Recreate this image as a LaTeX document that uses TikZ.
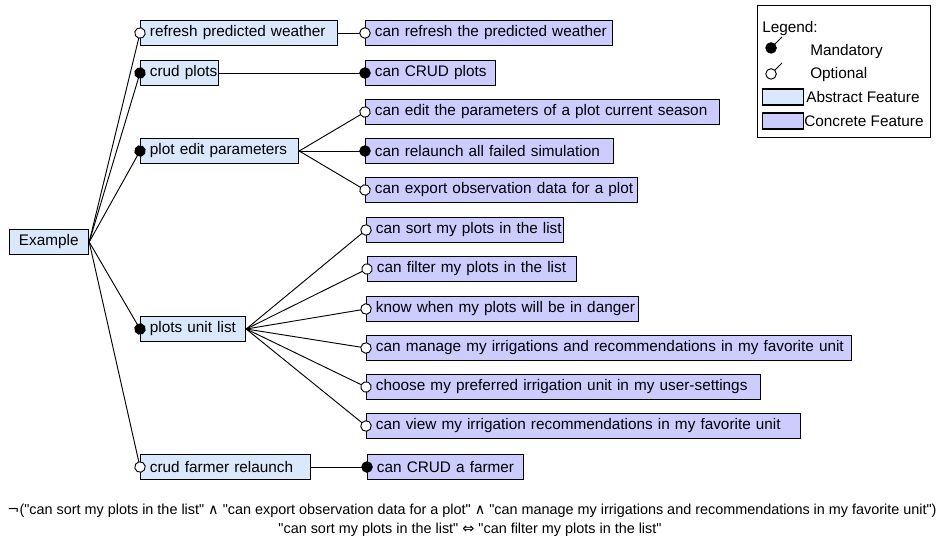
\documentclass[tikz,border=0pt]{standalone}
\usepackage{fontspec}
\setmainfont{Liberation Sans}
\newfontfamily\plainfont{Liberation Sans}
\newfontfamily\symfont{DejaVu Sans}
\usetikzlibrary{arrows.meta}

\definecolor{abstractfill}{RGB}{218,232,252}
\definecolor{concretefill}{RGB}{204,204,255}

\tikzset{
  feat/.style={draw, line width=0.9pt, anchor=west, minimum height=25*0.75pt,
    inner xsep=7pt, inner ysep=0pt, align=left, font=\fontsize{11.5}{13}\selectfont,
    execute at begin node={\hbox\bgroup}, execute at end node={\egroup}},
  abstract/.style={feat, fill=abstractfill},
  concrete/.style={feat, fill=concretefill},
  wd/.code={\pgfmathsetlengthmacro\featw{#1*0.75pt-14pt}\tikzset{text width=\featw}},
  mand/.style={line width=0.7pt, -{Circle[length=8.6pt]}, shorten >=-4.3pt},
  opt/.style={line width=0.7pt, -{Circle[open, fill=white, length=8.6pt]}, shorten >=-4.3pt},
  legtext/.style={anchor=west, inner sep=0pt, font=\fontsize{11.5}{13}\selectfont},
  constraint/.style={inner sep=0pt, font=\plainfont\fontsize{10.8}{12}\selectfont}
}

\begin{document}
\begin{tikzpicture}[x=0.75pt, y=-0.75pt]
\useasboundingbox (0,0) rectangle (938,539);

% root and abstract features
\node[abstract, wd=79]  (ex)   at (9,242)   {Example};
\node[abstract, wd=197] (rpw)  at (140,33)  {refresh predicted weather};
\node[abstract, wd=78]  (cp)   at (140,73)  {crud plots};
\node[abstract, wd=158] (pep)  at (140,151) {plot edit parameters};
\node[abstract, wd=105] (pul)  at (140,329) {plots unit list};
\node[abstract, wd=170] (cfr)  at (140,467) {crud farmer relaunch};

% concrete features
\node[concrete, wd=247] (rpwc) at (365,33)  {can refresh the predicted weather};
\node[concrete, wd=130] (cpc)  at (365,73)  {can CRUD plots};
\node[concrete, wd=354] (edit) at (365,112) {can edit the parameters of a plot current season};
\node[concrete, wd=248] (rel)  at (365,151) {can relaunch all failed simulation};
\node[concrete, wd=272] (exp)  at (365,190) {can export observation data for a plot};
\node[concrete, wd=197] (sort) at (366,230) {can sort my plots in the list};
\node[concrete, wd=209] (filt) at (367,269) {can filter my plots in the list};
\node[concrete, wd=272] (dang) at (366,309) {know when my plots will be in danger};
\node[concrete, wd=485] (man)  at (366,348) {can manage my irrigations and recommendations in my favorite unit};
\node[concrete, wd=394] (unit) at (366,387) {choose my preferred irrigation unit in my user-settings};
\node[concrete, wd=434] (view) at (366,426) {can view my irrigation recommendations in my favorite unit};
\node[concrete, wd=156] (cfc)  at (367,467) {can CRUD a farmer};

% connectors
\draw[opt]  (ex.east) -- (rpw.west);
\draw[mand] (ex.east) -- (cp.west);
\draw[mand] (ex.east) -- (pep.west);
\draw[mand] (ex.east) -- (pul.west);
\draw[opt]  (ex.east) -- (cfr.west);

\draw[opt]  (rpw.east) -- (rpwc.west);
\draw[mand] (cp.east) -- (cpc.west);

\draw[opt]  (pep.east) -- (edit.west);
\draw[mand] (pep.east) -- (rel.west);
\draw[opt]  (pep.east) -- (exp.west);

\foreach \c in {sort, filt, dang, man, unit, view}
  \draw[opt] (pul.east) -- (\c.west);

\draw[mand] (cfr.east) -- (cfc.west);

% legend
\node[draw, line width=0.7pt, minimum width=173*0.75pt, minimum height=132*0.75pt,
  anchor=north west] (legend) at (757,5) {};
\node[legtext] (lgtitle) at (762,29) {Legend:};
\coordinate (mandend) at (782,37);
\coordinate (mandpt)  at (767,52);
\draw[mand, shorten >=0pt] (mandend) -- (mandpt);
\node[legtext] (lgmand) at (810,52) {Mandatory};
\coordinate (optend) at (782,63);
\coordinate (optpt)  at (767,78);
\draw[opt, shorten >=0pt] (optend) -- (optpt);
\node[legtext] (lgopt) at (810,75) {Optional};
\node[draw, line width=0.9pt, fill=abstractfill, minimum width=41*0.75pt, minimum height=16*0.75pt,
  anchor=west, inner sep=0pt] (lgabs) at (762,97) {};
\node[legtext] (lgabstxt) at (806,97) {Abstract Feature};
\node[draw, line width=0.9pt, fill=concretefill, minimum width=41*0.75pt, minimum height=16*0.75pt,
  anchor=west, inner sep=0pt] (lgcon) at (762,121) {};
\node[legtext] (lgcontxt) at (804,121) {Concrete Feature};

% cross-tree constraints
\node[constraint] (ctc1) at (472,511) {{\symfont ¬}("can sort my plots in the list" {\symfont ∧} "can export observation data for a plot" {\symfont ∧} "can manage my irrigations and recommendations in my favorite unit")};
\node[constraint] (ctc2) at (470,530) {"can sort my plots in the list" {\symfont ⇔} "can filter my plots in the list"};
\end{tikzpicture}
\end{document}
